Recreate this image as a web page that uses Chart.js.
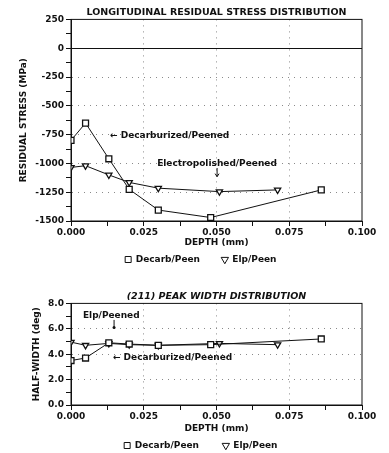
<!DOCTYPE html>
<html>
<head>
<meta charset="utf-8">
<script src="https://cdn.jsdelivr.net/npm/chart.js@4.4.0/dist/chart.umd.min.js"></script>
<style>
  html, body { margin: 0; padding: 0; background: #fff; }
  body { width: 389px; height: 453px; position: relative; overflow: hidden; }
  #wrap1 { position: absolute; left: 0; top: 0; width: 389px; height: 274px; }
  #wrap2 { position: absolute; left: 0; top: 280px; width: 389px; height: 180px; }
</style>
</head>
<body>
<div id="wrap1"><canvas id="stressChart"></canvas></div>
<div id="wrap2"><canvas id="widthChart"></canvas></div>
<script>
// depths (mm)
const decarbDepth = [0, 0.005, 0.013, 0.020, 0.030, 0.048, 0.086];
const elpDepth = [0, 0.005, 0.013, 0.020, 0.030, 0.051, 0.071];

// residual stress (MPa)
const decarbStress = [-800, -650, -960, -1225, -1405, -1470, -1230];
const elpStress = [-1035, -1020, -1100, -1165, -1215, -1245, -1230];

// (211) half-width (deg)
const decarbWidth = [3.5, 3.7, 4.9, 4.8, 4.7, 4.75, 5.2];
const elpWidth = [4.95, 4.7, 4.85, 4.75, 4.7, 4.85, 4.75];

const seriesNames = ['Decarb/Peen', 'Elp/Peen'];

// text notes, in data units
const stressNotes = [
  { text: '\u2190 Decarburized/Peened', x: 0.0134, y: -760 },
  { text: 'Electropolished/Peened', x: 0.0296, y: -1000, arrowX: 0.0502, arrowFrom: -1040, arrowTo: -1115 }
];
const widthNotes = [
  { text: 'Elp/Peened', x: 0.0041, y: 7.0, dotX: 0.0148, dotFrom: 6.7, dotTo: 6.1 },
  { text: '\u2190 Decarburized/Peened', x: 0.0144, y: 3.75 }
];

Chart.defaults.font.family = 'DejaVu Sans';
Chart.defaults.font.size = 9;
Chart.defaults.font.weight = 'bold';
Chart.defaults.color = '#111';

function toPoints(xs, ys) {
  return xs.map((x, i) => ({ x: x, y: ys[i] }));
}

function isMultiple(v, step) {
  const r = v / step;
  return Math.abs(r - Math.round(r)) < 1e-6;
}

const frameAndNotes = {
  id: 'frameAndNotes',
  afterDatasetsDraw(chart, args, opts) {
    const { ctx, chartArea: a, scales } = chart;
    ctx.save();
    ctx.strokeStyle = '#111';
    ctx.lineWidth = 1;
    ctx.strokeRect(a.left, a.top, a.right - a.left, a.bottom - a.top);

    ctx.fillStyle = '#111';
    ctx.font = 'bold 9px "DejaVu Sans"';
    ctx.textBaseline = 'middle';
    ctx.textAlign = 'left';
    (opts.notes || []).forEach(n => {
      ctx.fillText(n.text, scales.x.getPixelForValue(n.x), scales.y.getPixelForValue(n.y));
      if (n.arrowX !== undefined) {
        const ax = scales.x.getPixelForValue(n.arrowX);
        const y0 = scales.y.getPixelForValue(n.arrowFrom);
        const y1 = scales.y.getPixelForValue(n.arrowTo);
        ctx.beginPath();
        ctx.moveTo(ax, y0);
        ctx.lineTo(ax, y1);
        ctx.stroke();
        ctx.beginPath();
        ctx.moveTo(ax - 2, y1 - 3);
        ctx.lineTo(ax, y1);
        ctx.lineTo(ax + 2, y1 - 3);
        ctx.stroke();
      }
      if (n.dotX !== undefined) {
        const dx = scales.x.getPixelForValue(n.dotX);
        const y0 = scales.y.getPixelForValue(n.dotFrom);
        const y1 = scales.y.getPixelForValue(n.dotTo);
        ctx.beginPath();
        ctx.moveTo(dx, y0);
        ctx.lineTo(dx, y1);
        ctx.stroke();
        ctx.beginPath();
        ctx.arc(dx, y1, 1.5, 0, Math.PI * 2);
        ctx.fill();
      }
    });
    ctx.restore();
  }
};

function makeDatasets(decarbYs, elpYs) {
  return [
    {
      label: seriesNames[0],
      data: toPoints(decarbDepth, decarbYs),
      borderColor: '#111',
      borderWidth: 1,
      backgroundColor: '#fff',
      pointStyle: 'rect',
      pointRadius: 4.2,
      pointBorderWidth: 1.3,
      pointBackgroundColor: '#fff',
      pointBorderColor: '#111'
    },
    {
      label: seriesNames[1],
      data: toPoints(elpDepth, elpYs),
      borderColor: '#111',
      borderWidth: 1,
      backgroundColor: '#fff',
      pointStyle: 'triangle',
      pointRotation: 180,
      pointRadius: 3.6,
      pointBorderWidth: 1.3,
      pointBackgroundColor: '#fff',
      pointBorderColor: '#111'
    }
  ];
}

function makeOptions(cfg) {
  return {
    responsive: true,
    maintainAspectRatio: false,
    animation: false,
    layout: { padding: { left: 0, right: 27, top: 0, bottom: 0 } },
    plugins: {
      title: {
        display: true,
        fullSize: false,
        text: cfg.title,
        font: { size: 9.5, weight: 'bold', style: cfg.titleStyle },
        color: '#111',
        padding: cfg.titlePadding
      },
      legend: {
        position: 'bottom',
        fullSize: false,
        labels: {
          usePointStyle: true,
          boxWidth: 6,
          boxHeight: 6,
          padding: cfg.legendPadding,
          color: '#111',
          font: { size: 9, weight: 'bold' },
          generateLabels(chart) {
            const items = Chart.defaults.plugins.legend.labels.generateLabels(chart);
            items.forEach((it, i) => {
              it.fillStyle = '#fff';
              it.lineWidth = 1;
              // trailing blanks keep the pair spaced and a little left of centre
              it.text = it.text + (i < items.length - 1 ? '      ' : '          ');
            });
            return items;
          }
        }
      },
      tooltip: { enabled: false },
      frameAndNotes: { notes: cfg.notes }
    },
    scales: {
      x: {
        type: 'linear',
        min: 0,
        max: 0.1,
        afterFit(scale) { scale.height = 31; },
        ticks: {
          stepSize: 0.0125,
          autoSkip: false,
          maxRotation: 0,
          padding: 1,
          color: '#111',
          callback: v => isMultiple(v, 0.025) ? v.toFixed(3) : ''
        },
        grid: {
          color: c => (c.tick && isMultiple(c.tick.value, 0.025) && c.tick.value > 0 && c.tick.value < 0.1) ? '#8a8a8a' : 'transparent',
          tickColor: '#111',
          tickLength: 5,
          lineWidth: 1
        },
        border: { display: true, color: '#111', width: 1, dash: c => c.tick ? [1, 5] : [] },
        title: { display: true, text: 'DEPTH (mm)', color: '#111', padding: { top: 0, bottom: cfg.xTitlePad } }
      },
      y: {
        min: cfg.yMin,
        max: cfg.yMax,
        afterFit(scale) { scale.width = 71; },
        ticks: {
          stepSize: cfg.yStep,
          autoSkip: false,
          padding: 2,
          color: '#111',
          callback: v => isMultiple(v, cfg.yMajor) ? cfg.yFmt(v) : ''
        },
        grid: {
          color: c => {
            if (!c.tick) return 'transparent';
            const v = c.tick.value;
            if (v === cfg.yMin || v === cfg.yMax) return 'transparent';
            if (cfg.zeroLine && v === 0) return '#111';
            return isMultiple(v, cfg.yMajor) ? '#8a8a8a' : 'transparent';
          },
          tickColor: '#111',
          tickLength: 5,
          lineWidth: 1
        },
        border: {
          display: true, color: '#111', width: 1,
          dash: c => (c.tick && !(cfg.zeroLine && c.tick.value === 0)) ? [1, 5] : []
        },
        title: { display: true, text: cfg.yTitle, color: '#111', padding: { top: cfg.yTitlePad, bottom: 0 } }
      }
    }
  };
}

new Chart(document.getElementById('stressChart'), {
  type: 'line',
  data: { datasets: makeDatasets(decarbStress, elpStress) },
  options: makeOptions({
    title: 'LONGITUDINAL RESIDUAL STRESS DISTRIBUTION',
    titleStyle: 'normal',
    titlePadding: { top: 7, bottom: 1 },
    legendPadding: 3,
    xTitlePad: 4,
    yMin: -1500, yMax: 250, yStep: 125, yMajor: 250,
    yFmt: v => String(v),
    zeroLine: true,
    yTitle: 'RESIDUAL STRESS (MPa)',
    yTitlePad: 18,
    notes: stressNotes
  }),
  plugins: [frameAndNotes]
});

new Chart(document.getElementById('widthChart'), {
  type: 'line',
  data: { datasets: makeDatasets(decarbWidth, elpWidth) },
  options: makeOptions({
    title: '(211) PEAK WIDTH DISTRIBUTION',
    titleStyle: 'italic',
    titlePadding: { top: 11, bottom: 1 },
    legendPadding: 5,
    xTitlePad: 2,
    yMin: 0, yMax: 8, yStep: 1, yMajor: 2,
    yFmt: v => v.toFixed(1),
    zeroLine: false,
    yTitle: 'HALF-WIDTH (deg)',
    yTitlePad: 31,
    notes: widthNotes
  }),
  plugins: [frameAndNotes]
});
</script>
</body>
</html>
